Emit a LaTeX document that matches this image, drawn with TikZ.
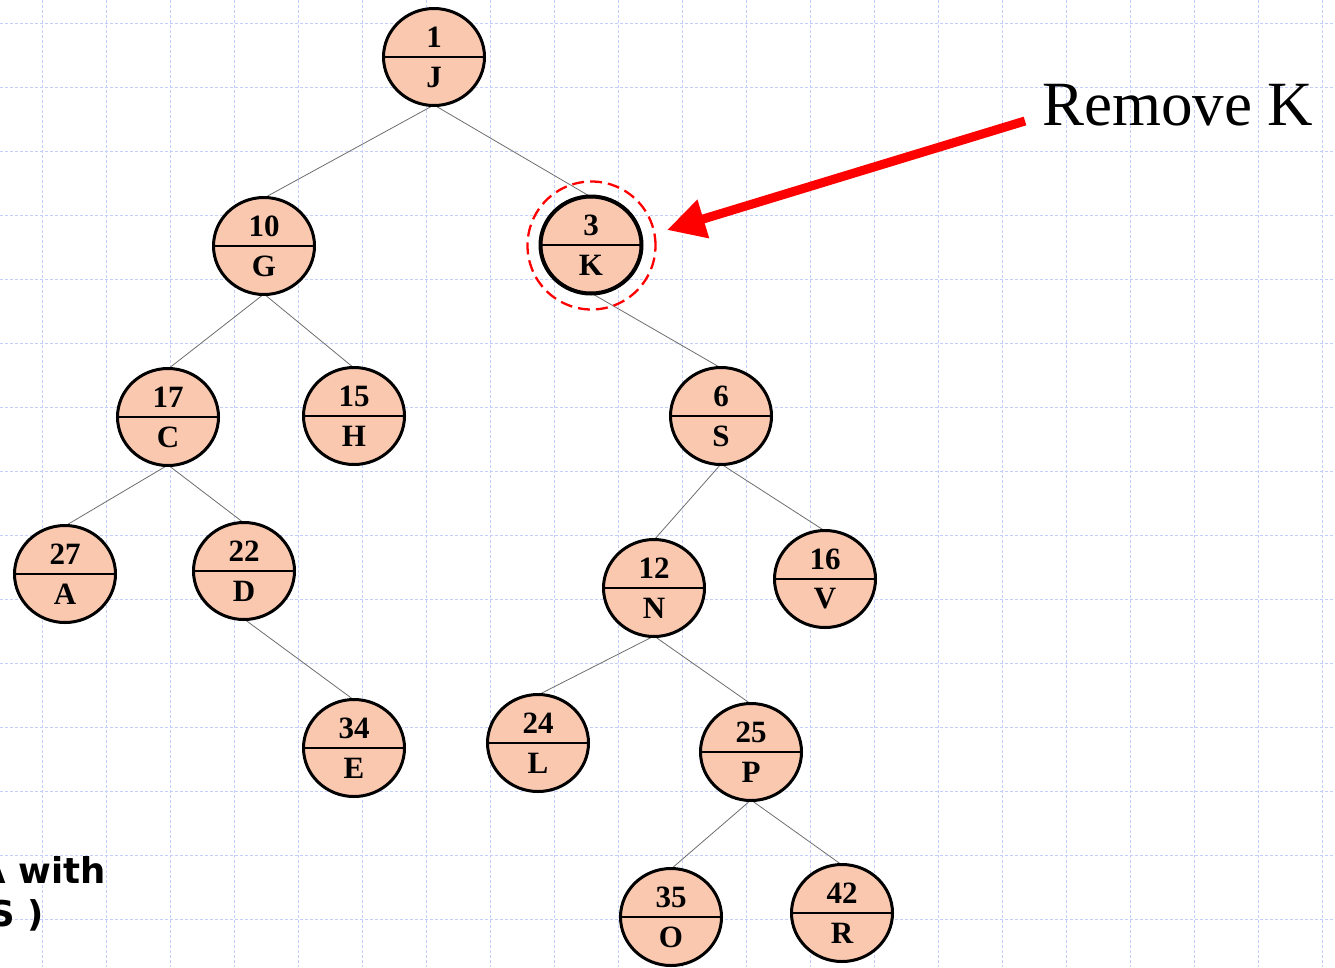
\documentclass[tikz,border=0pt]{standalone}
\usepackage{fontspec}
\setmainfont{Liberation Serif}
\newfontfamily\sidefont{DejaVu Sans}
\usetikzlibrary{arrows.meta,shapes.geometric}
\definecolor{gridc}{RGB}{196,206,250}
\definecolor{peach}{RGB}{250,200,175}
\definecolor{edgec}{RGB}{110,110,110}
\tikzset{
  tn/.style={ellipse,draw=black,line width=3pt,fill=peach,minimum width=101pt,minimum height=97pt,inner sep=0pt},
  divline/.style={draw=black,line width=1.3pt},
  tlabel/.style={font=\bfseries\fontsize{31}{31}\selectfont,inner sep=0pt},
  edge/.style={draw=edgec,line width=0.8pt},
  gridline/.style={draw=gridc,line width=0.9pt,dash pattern=on 3pt off 2pt},
}
\newcommand{\treenode}[5]{%
  \node[tn] (#1) at (#2,#3) {};
  \draw[divline] (#1.west) -- (#1.east);
  \node[tlabel] (#1num) at (#2,#3-20) {#4};
  \node[tlabel] (#1let) at (#2,#3+20) {#5};
}
\begin{document}
\begin{tikzpicture}[x=1pt,y=-1pt]
\useasboundingbox (0,0) rectangle (1335,967);
\fill[white] (0,0) rectangle (1335,967);
% grid
\foreach \gx in {42,106,...,1322} \draw[gridline] (\gx,0) -- (\gx,967);
\foreach \gy in {23,87,...,919} \draw[gridline] (0,\gy) -- (1335,\gy);
% node positions (coordinates first for edges)
\foreach \n/\x/\y in {J/434/57,G/264/246,K/591/245,C/168/417,H/354/416,S/721/416,A/65/574,D/244/571,N/654/588,V/825/579,E/354/748,L/538/743,P/751/752,O/671/917,R/842/913}
  \coordinate (p\n) at (\x,\y);
% edges
\foreach \a/\b in {J/G,J/K,G/C,G/H,C/A,C/D,D/E,K/S,S/N,S/V,N/L,N/P,P/O,P/R}
  \draw[edge] ([yshift=-48pt]p\a) -- ([yshift=48pt]p\b);
% nodes
\treenode{J}{434}{57}{1}{J}
\treenode{G}{264}{246}{10}{G}
\treenode{K}{591}{245}{3}{K}
\treenode{C}{168}{417}{17}{C}
\treenode{H}{354}{416}{15}{H}
\treenode{S}{721}{416}{6}{S}
\treenode{A}{65}{574}{27}{A}
\treenode{D}{244}{571}{22}{D}
\treenode{N}{654}{588}{12}{N}
\treenode{V}{825}{579}{16}{V}
\treenode{E}{354}{748}{34}{E}
\treenode{L}{538}{743}{24}{L}
\treenode{P}{751}{752}{25}{P}
\treenode{O}{671}{917}{35}{O}
\treenode{R}{842}{913}{42}{R}
\draw[black,line width=4pt] (K.center) ellipse (50.5pt and 48.5pt);
\draw[divline] (K.west) -- (K.east);
% highlight ring
\node[circle,draw=red,line width=2.3pt,dash pattern=on 12pt off 6pt,minimum size=128pt,inner sep=0pt] (ring) at (591.5,245.5) {};
% label and arrow
\node[anchor=base west,inner sep=0pt,font=\fontsize{63}{63}\selectfont] (rem) at (1042,125) {Remove K};
\coordinate (arrstart) at (1025,121);
\coordinate (arrtip) at (667,230);
\draw[red,line width=9pt,-{Triangle[length=38pt,width=38pt]}] (arrstart) -- (arrtip);
% partial side text
\node[anchor=base east,inner sep=0pt,font=\sidefont\bfseries\fontsize{35.5}{35.5}\selectfont] (side1) at (106,883) {A with};
\node[anchor=base east,inner sep=0pt,font=\sidefont\bfseries\fontsize{35.5}{35.5}\selectfont] (side2) at (44,926) {S )};
\end{tikzpicture}
\end{document}
